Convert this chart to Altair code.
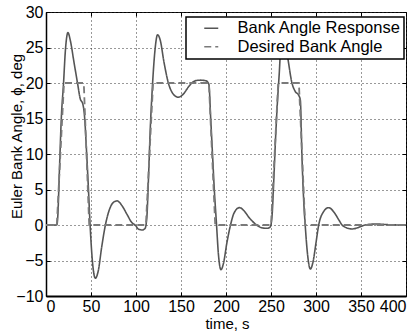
import altair as alt
import pandas as pd

# Bank angle response
resp_t = [0, 12, 13, 15, 17, 19.5, 21.5, 24.4, 27, 31, 35, 38, 41, 43, 45, 47, 49, 51.5, 54.8, 58, 62, 66,
          70, 75, 79, 84, 90, 95, 99, 103, 107, 110, 112, 114, 116, 118, 121, 124, 127, 131, 136, 141, 147,
          153, 158, 162, 167, 172, 178, 181, 183, 185, 187, 189.5, 191.5, 194.4, 197, 201, 205, 209, 215,
          220, 226, 234, 240, 245.5, 249, 251, 253, 255, 257, 259, 262, 265, 268.4, 273.3, 277, 280.7,
          282.6, 284.4, 286.5, 288, 290.5, 293.7, 297, 300, 303, 308, 314, 320, 325, 329, 334, 340, 346,
          352, 360, 368, 376, 385, 400]
resp_y = [0, 0, 1, 8, 15, 20, 24.5, 27.1, 26, 23, 20, 17.8, 17, 15, 10.5, 5.5, 0, -5, -7.5, -6.5, -3, 0,
          2, 3.2, 3.4, 2.8, 1.5, 0.4, 0, -0.6, -0.7, -0.5, 1, 7, 14, 19, 24.5, 26.8, 26, 23, 20, 18.5, 18,
          18.5, 19.4, 20, 20.35, 20.4, 20.3, 19.8, 15, 10, 5, 0, -4, -6.3, -5.5, -2.5, 0, 1.7, 2.45,
          2, 1, 0, -0.4, -0.46, -0.3, 1, 6, 12, 17, 21, 26.8, 26, 23.7, 20, 18.8, 18.3,
          17.6, 9.6, 3, 0, -4, -6.2, -5, -2.5, 0, 1.8, 2.44, 1.8, 0.8, 0, -0.4, -0.56, -0.4,
          -0.1, 0.1, 0.14, 0.08, 0.02, 0]

# Desired bank angle command
des_t = [0, 12, 20, 42, 48, 111, 119, 181, 188, 250, 258, 281, 288, 400]
des_y = [0, 0, 20, 20, 0, 0, 20, 20, 0, 0, 20, 20, 0, 0]

series_names = ["Bank Angle Response", "Desired Bank Angle"]
x_ticks = list(range(0, 401, 50))
y_ticks = list(range(-10, 31, 5))

df = pd.concat([
    pd.DataFrame({"t": resp_t, "phi": resp_y, "series": series_names[0], "order": range(len(resp_t))}),
    pd.DataFrame({"t": des_t, "phi": des_y, "series": series_names[1], "order": range(len(des_t))}),
])

FONT = "Liberation Sans"
xscale = alt.Scale(domain=[0, 400], nice=False)
yscale = alt.Scale(domain=[-10, 30], nice=False)

color = alt.Color("series:N", scale=alt.Scale(domain=series_names, range=["#555555", "#7a7a7a"]),
                  legend=alt.Legend(title=None, orient="none", legendX=140, legendY=5,
                                    fillColor="white", strokeColor="black", padding=3,
                                    labelFont=FONT, labelFontSize=16.5, labelColor="black",
                                    labelLimit=300,
                                    symbolType="M-1.4,0H1.4", symbolSize=100, symbolStrokeWidth=1.6,
                                    symbolOffset=14, labelOffset=18, rowPadding=1.5))
dash = alt.StrokeDash("series:N", scale=alt.Scale(domain=series_names, range=[[1, 0], [7, 4]]),
                      legend=None)

main_x = alt.Axis(values=x_ticks, grid=True, gridColor="#333333", gridDash=[1, 3], gridWidth=1,
                  tickSize=0, labelFont=FONT, labelFontSize=16, labelColor="black", labelPadding=2,
                  domain=True, domainColor="black", domainWidth=2,
                  title="time, s", titleFont=FONT, titleFontSize=15, titleFontWeight="normal",
                  titleColor="black", titleX=181, titleY=32, titleBaseline="alphabetic", format="d")
main_y = alt.Axis(values=y_ticks, grid=True, gridColor="#333333", gridDash=[1, 3], gridWidth=1,
                  tickSize=0, labelFont=FONT, labelFontSize=16, labelColor="black", labelPadding=3,
                  domain=True, domainColor="black", domainWidth=1.5,
                  title="Euler Bank Angle, ϕ, deg", titleFont=FONT, titleFontSize=15,
                  titleFontWeight="normal", titleColor="black", titleX=-30, titleY=124,
                  titleBaseline="middle", titleAlign="center", format="d")

def tick_axis(orient, vals):
    return alt.Axis(orient=orient, values=vals, offset=-4, tickSize=4, tickColor="black",
                    tickWidth=1, labels=False, domain=False, grid=False, title="")

base = alt.Chart(df)

resp = base.transform_filter(alt.datum.series == series_names[0]).mark_line(
    interpolate="monotone", strokeWidth=1.6
).encode(
    x=alt.X("t:Q", scale=xscale, axis=main_x),
    y=alt.Y("phi:Q", scale=yscale, axis=main_y),
    color=color, strokeDash=dash, order="order:Q",
)

des = base.transform_filter(alt.datum.series == series_names[1]).mark_line(strokeWidth=1.8).encode(
    x=alt.X("t:Q", scale=xscale, axis=tick_axis("top", x_ticks)),
    y=alt.Y("phi:Q", scale=yscale, axis=tick_axis("right", y_ticks)),
    color=color, strokeDash=dash, order="order:Q",
)

ticks_in = base.transform_filter(alt.datum.series == series_names[1]).mark_line(opacity=0).encode(
    x=alt.X("t:Q", scale=xscale, axis=tick_axis("bottom", x_ticks)),
    y=alt.Y("phi:Q", scale=yscale, axis=tick_axis("left", y_ticks)),
    order="order:Q",
)

chart = alt.layer(resp, des, ticks_in).resolve_axis(x="independent", y="independent").properties(
    width=360, height=284,
    autosize=alt.AutoSizeParams(type="none"),
    padding={"left": 46, "top": 12, "right": 13, "bottom": 35},
    background="white",
).configure_view(stroke="black", strokeWidth=1).configure_legend(strokeWidth=1.5)

chart.save("out.html", embed_options={"renderer": "svg", "actions": False})
